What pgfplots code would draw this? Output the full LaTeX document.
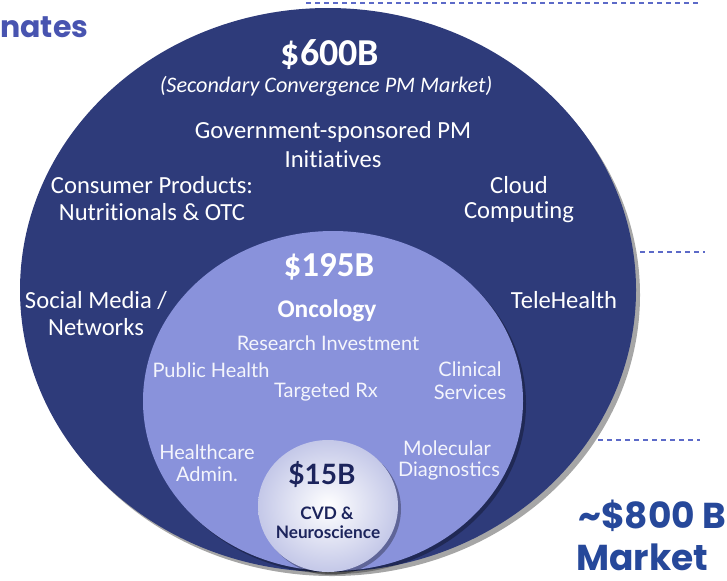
\documentclass[border=0pt]{standalone}
\usepackage{pgfplots}
\pgfplotsset{compat=1.18}
\usepackage{fontspec}
\setmainfont{Carlito}[Ligatures={NoCommon}]
\newfontfamily\inner{Lato}
\newfontfamily\pop{Poppins}
\definecolor{navy}{RGB}{46,59,122}
\definecolor{peri}{RGB}{137,146,219}
\definecolor{rim}{RGB}{196,200,232}
\definecolor{guideblue}{RGB}{92,106,200}
\definecolor{titleblue}{RGB}{72,84,176}
\definecolor{mktblue}{RGB}{38,72,154}
\definecolor{deepnavy}{RGB}{28,36,92}
\definecolor{softwhite}{RGB}{244,245,252}
\begin{document}
\begin{tikzpicture}[
  lbl/.style={text=white, inner sep=0pt, font=\fontsize{12.3}{14}\selectfont},
  ilbl/.style={text=softwhite, inner sep=0pt, font=\inner\fontsize{10}{12}\selectfont},
  clbl/.style={text=deepnavy, inner sep=0pt},
]
\begin{axis}[
  hide axis, scale only axis,
  width=363.5pt, height=290pt,
  xmin=0, xmax=727, ymin=0, ymax=580,
  y dir=reverse, clip=false,
]
% dashed guide lines
\addplot[guideblue, thick, dash pattern=on 2.5pt off 2pt] coordinates {(306,3) (700,3)};
\addplot[guideblue, thick, dash pattern=on 2.5pt off 2pt] coordinates {(640,252) (705,252)};
\addplot[guideblue, thick, dash pattern=on 2.5pt off 2pt] coordinates {(598,440) (700,440)};

% outer circle ($600B)
\fill[black, opacity=0.35] (axis cs:332,295) ellipse [x radius=308, y radius=281];
\fill[navy] (axis cs:328,290) ellipse [x radius=308, y radius=282];
% middle circle ($195B)
\fill[black, opacity=0.3] (axis cs:336,404) ellipse [x radius=190, y radius=170];
\fill[peri] (axis cs:333,401) ellipse [x radius=190, y radius=170];
% inner circle ($15B)
\fill[black, opacity=0.3] (axis cs:331,509) ellipse [x radius=70, y radius=66];
\shade[inner color=white, outer color=rim] (axis cs:328,506) ellipse [x radius=70, y radius=66];

% outer labels
\node[lbl, font=\bfseries\fontsize{19}{22}\selectfont] at (axis cs:330,55) {\$600B};
\node[lbl, font=\itshape\fontsize{11.1}{13}\selectfont] at (axis cs:326,86) {(Secondary Convergence PM Market)};
\node[lbl] at (axis cs:333,132) {Government-sponsored PM};
\node[lbl] at (axis cs:333,159) {Initiatives};
\node[lbl] at (axis cs:152,185) {Consumer Products:};
\node[lbl] at (axis cs:152,212) {Nutritionals \& OTC};
\node[lbl] at (axis cs:519,185) {Cloud};
\node[lbl] at (axis cs:519,212) {Computing};
\node[lbl] at (axis cs:96,300) {Social Media /};
\node[lbl] at (axis cs:96,327) {Networks};
\node[lbl] at (axis cs:564,300) {TeleHealth};

% middle labels
\node[lbl, font=\bfseries\fontsize{17.5}{20}\selectfont] at (axis cs:329,267) {\$195B};
\node[lbl, font=\bfseries\fontsize{12.7}{14}\selectfont] at (axis cs:327,311) {Oncology};
\node[ilbl] at (axis cs:328,343) {Research Investment};
\node[ilbl] at (axis cs:211,370) {Public Health};
\node[ilbl] at (axis cs:326,392) {Targeted Rx};
\node[ilbl] at (axis cs:470,369) {Clinical};
\node[ilbl] at (axis cs:470,392) {Services};
\node[ilbl] at (axis cs:207,452) {Healthcare};
\node[ilbl] at (axis cs:207,474) {Admin.};
\node[ilbl] at (axis cs:447,448) {Molecular};
\node[ilbl] at (axis cs:449,471) {Diagnostics};

% inner labels
\node[clbl, font=\inner\bfseries\fontsize{14}{16}\selectfont] at (axis cs:322,475) {\$15B};
\node[clbl, font=\inner\bfseries\fontsize{8.6}{10}\selectfont] at (axis cs:327,513) {CVD \&};
\node[clbl, font=\inner\bfseries\fontsize{8.6}{10}\selectfont] at (axis cs:328,532) {Neuroscience};

% side texts
\node[text=titleblue, anchor=west, inner sep=0pt, font=\pop\bfseries\fontsize{15}{17}\selectfont] at (axis cs:0,27) {nates};
\node[text=mktblue, anchor=west, inner sep=0pt, font=\pop\bfseries\fontsize{18}{21}\selectfont] at (axis cs:578,516) {\textasciitilde\$800 B};
\node[text=mktblue, anchor=west, inner sep=0pt, font=\pop\bfseries\fontsize{18}{21}\selectfont] at (axis cs:576,557) {Market};
\end{axis}
% keep the page at the axis box, as in the cropped reference
\pgfresetboundingbox
\useasboundingbox (current axis.south west) rectangle (current axis.north east);
\end{tikzpicture}
\end{document}
